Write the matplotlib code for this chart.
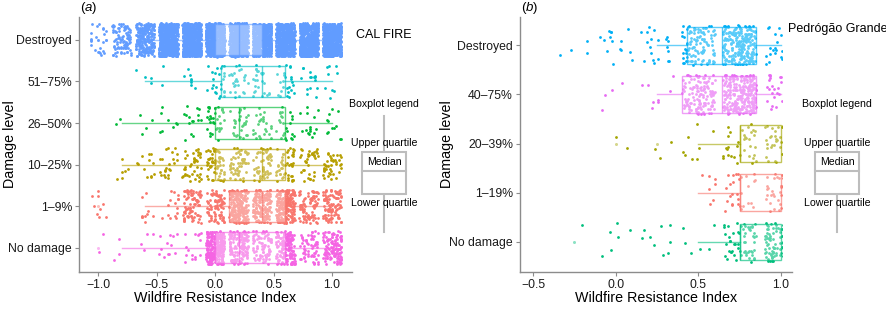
import numpy as np
import matplotlib.pyplot as plt
from matplotlib.patches import Rectangle
from matplotlib.colors import to_rgba

plt.rcParams['font.family'] = ['Liberation Sans', 'DejaVu Sans']
plt.rcParams['mathtext.fontset'] = 'custom'
plt.rcParams['mathtext.it'] = 'Liberation Sans:italic'
plt.rcParams['mathtext.rm'] = 'Liberation Sans'

# ---- panel (a): CAL FIRE ----
cats_a = ["No damage", "1–9%", "10–25%", "26–50%", "51–75%", "Destroyed"]
colors_a = ["#F564E3", "#F8766D", "#B79F00", "#00BA38", "#00BFC4", "#619CFF"]
levels_a = [-1.0, -0.8, -0.6, -0.4, -0.2, 0.0, 0.2, 0.4, 0.6, 0.8, 1.0]
# number of buildings at each index value
counts_a = [
    [2, 3, 4, 12, 15, 250, 150, 80, 150, 60, 120],      # No damage
    [9, 0, 10, 15, 80, 80, 200, 150, 200, 80, 100],     # 1-9%
    [0, 6, 12, 22, 40, 60, 55, 55, 50, 35, 40],         # 10-25%
    [0, 2, 4, 8, 15, 35, 30, 25, 25, 15, 12],           # 26-50%
    [0, 0, 4, 2, 8, 25, 25, 25, 25, 15, 9],             # 51-75%
    [25, 90, 220, 600, 600, 600, 600, 600, 600, 600, 600],  # Destroyed
]
# whisker low, Q1, median, Q3, whisker high
box_a = [
    [-0.8, 0.0, 0.2, 0.6, 1.0],
    [-0.6, 0.12, 0.4, 0.6, 1.0],
    [-0.8, 0.0, 0.4, 0.6, 1.0],
    [-0.8, 0.0, 0.2, 0.6, 1.0],
    [-0.6, 0.05, 0.4, 0.6, 1.0],
    [-0.6, 0.0, 0.2, 0.4, 1.0],
]
fliers_a = [[-1.0], [-1.0], [], [], [], [-0.8, -1.0]]

# ---- panel (b): Pedrógão Grande ----
cats_b = ["No damage", "1–19%", "20–39%", "40–75%", "Destroyed"]
colors_b = ["#00BF7D", "#F8766D", "#A3A500", "#E76BF3", "#00B0F6"]
levels_b = [-0.25, 0.0, 0.25, 0.5, 0.75, 1.0]
counts_b = [
    [1, 6, 9, 6, 60, 140],
    [0, 0, 0, 7, 30, 60],
    [0, 2, 3, 8, 35, 50],
    [0, 4, 8, 130, 250, 40],
    [4, 15, 20, 110, 220, 40],
]
box_b = [
    [0.5, 0.75, 0.75, 1.0, 1.0],
    [0.5, 0.75, 0.75, 1.0, 1.0],
    [0.5, 0.75, 0.75, 1.0, 1.0],
    [0.25, 0.40, 0.645, 0.85, 1.0],
    [0.25, 0.43, 0.645, 0.85, 1.0],
]
fliers_b = [[-0.25], [], [0.0, 0.25], [], []]

W, H = 887, 309
fig = plt.figure(figsize=(W / 100, H / 100), dpi=100)
axa = fig.add_axes([79 / W, 37 / H, 273 / W, 255 / H])
axb = fig.add_axes([520 / W, 37 / H, 272 / W, 255 / H])


def scramble(i, seed):
    # deterministic hash in [0, 1) used only for the jitter offsets
    v = np.sin(i * 12.9898 + seed * 78.233) * 43758.5453
    return v - np.floor(v)


def strip(ax, levels, counts, colors, jw, clip=None):
    for k, (row, col) in enumerate(zip(counts, colors)):
        xs, ys = [], []
        for j, (lv, n) in enumerate(zip(levels, row)):
            i = np.arange(n) + 1.0
            u = scramble(i, k * 13 + j + 1)
            v = scramble(i, k * 13 + j + 101)
            xs.append(lv + (2 * u - 1) * jw)
            ys.append(k + 1 + (2 * v - 1) * 0.4)
        sc = ax.scatter(np.concatenate(xs), np.concatenate(ys), s=4,
                        color=col, linewidths=0, zorder=2)
        if clip is not None:
            sc.set_clip_path(clip)


def boxes(ax, box, fliers, colors):
    stats = []
    for b, f in zip(box, fliers):
        stats.append(dict(whislo=b[0], q1=b[1], med=b[2], q3=b[3],
                          whishi=b[4], fliers=f))
    res = ax.bxp(stats, positions=range(1, len(box) + 1), widths=0.75,
                 vert=False, patch_artist=True, showcaps=False,
                 manage_ticks=False, zorder=3)
    for k, col in enumerate(colors):
        res['boxes'][k].set(facecolor=(1, 1, 1, 0.35),
                            edgecolor=to_rgba(col, 0.65), linewidth=1.0)
        res['medians'][k].set(color=col, alpha=0.65, linewidth=1.0)
        for w in res['whiskers'][2 * k:2 * k + 2]:
            w.set(color=col, alpha=0.6, linewidth=1.0)
        res['fliers'][k].set(marker='o', markersize=2.2, markerfacecolor=col,
                             markeredgewidth=0, alpha=0.45)


strip(axa, levels_a, counts_a, colors_a, 0.08)
boxes(axa, box_a, fliers_a, colors_a)

clip_b = Rectangle((-0.579, 0.39), 1.584, 5.2, transform=axb.transData)
strip(axb, levels_b, counts_b, colors_b, 0.1, clip=clip_b)
boxes(axb, box_b, fliers_b, colors_b)

axa.set_xlim(-1.165, 1.17)
axa.set_ylim(0.42, 6.55)
axb.set_xlim(-0.579, 1.067)
axb.set_ylim(0.39, 5.57)

for ax, cats, xt in [(axa, cats_a, [-1.0, -0.5, 0.0, 0.5, 1.0]),
                     (axb, cats_b, [-0.5, 0.0, 0.5, 1.0])]:
    ax.set_yticks(range(1, len(cats) + 1))
    ax.set_yticklabels(cats)
    ax.set_xticks(xt)
    ax.set_xticklabels([f"{t:.1f}".replace("-", "\u2212") for t in xt])
    for s in ["top", "right"]:
        ax.spines[s].set_visible(False)
    for s in ["left", "bottom"]:
        ax.spines[s].set_color("#8c8c8c")
        ax.spines[s].set_linewidth(1.0)
    ax.tick_params(length=3, width=0.8, color="#8c8c8c", labelsize=8.8,
                   labelcolor="#1a1a1a", pad=2)
    ax.set_facecolor("none")

# axis titles and panel labels
fig.text(215.5 / W, 1 - 298 / H, "Wildfire Resistance Index", ha="center",
         va="center", fontsize=10.3)
fig.text(656 / W, 1 - 298 / H, "Wildfire Resistance Index", ha="center",
         va="center", fontsize=10.3)
fig.text(10 / W, 1 - 144.5 / H, "Damage level", rotation=90, ha="center",
         va="center", fontsize=10.3)
fig.text(447 / W, 1 - 144.5 / H, "Damage level", rotation=90, ha="center",
         va="center", fontsize=10.3)
fig.text(80 / W, 1 - 8 / H, r"($\mathit{a}$)", ha="left", va="center",
         fontsize=9.5)
fig.text(521 / W, 1 - 8 / H, r"($\mathit{b}$)", ha="left", va="center",
         fontsize=9.5)
fig.text(356 / W, 1 - 35 / H, "CAL FIRE", ha="left", va="center", fontsize=9)
fig.text(788 / W, 1 - 29 / H, "Pedrógão Grande", ha="left", va="center",
         fontsize=9)

# boxplot legends drawn in pixel coordinates
ov = fig.add_axes([0, 0, 1, 1])
ov.set_xlim(0, W)
ov.set_ylim(H, 0)
ov.axis("off")
gray = "#BDBDBD"
for cx in [384, 837]:
    ov.plot([cx, cx], [116, 232], color=gray, lw=1.5, zorder=1)
    ov.add_patch(Rectangle((cx - 22, 152), 44, 42, facecolor="white",
                           edgecolor=gray, lw=1.5, zorder=2))
    ov.plot([cx - 22, cx + 22], [171, 171], color=gray, lw=1.5, zorder=2)
    ov.text(cx, 104, "Boxplot legend", ha="center", va="center", fontsize=7.6)
    ov.text(cx, 143, "Upper quartile", ha="center", va="center", fontsize=7.6,
            zorder=3)
    ov.text(cx, 162, "Median", ha="center", va="center", fontsize=7.6,
            zorder=3)
    ov.text(cx, 203, "Lower quartile", ha="center", va="center", fontsize=7.6,
            zorder=3)

fig.savefig("out.png", dpi=100)
